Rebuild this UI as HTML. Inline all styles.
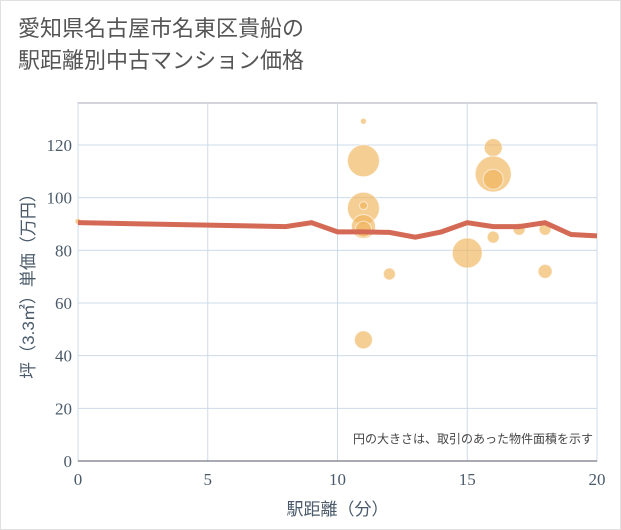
<!DOCTYPE html>
<html><head><meta charset="utf-8"><style>
body{margin:0;background:#fff;}
.wrap{position:relative;width:619px;height:528px;border:1px solid #e0e0e0;background:#fff;font-family:"Liberation Sans","Noto Sans CJK JP",sans-serif;}
.title{position:absolute;left:17px;top:12px;font-size:22px;line-height:32px;color:#555;}
</style></head><body>
<div class="wrap">
<div class="title">愛知県名古屋市名東区貴船の<br>駅距離別中古マンション価格</div>
<svg id="c" width="621" height="530" style="position:absolute;left:-1px;top:-1px"></svg>
</div>
<script>
const bubbleX=[0,11,11,11,11,11,11,11,12,15,16,16,16,16,17,18,18];
const bubbleY=[91,129,114,96,97,89,88,46,71,79,119,109,107,85,88,88,72];
const bubbleR=[3,3,16,16,4,12,8,9,6,15,9,18,10,6,6,6,7];
const lineX=[0,8,9,10,11,12,13,14,15,16,17,18,19,20];
const lineY=[90.5,89,90.5,87,87,86.8,85,87,90.5,89,89,90.5,86,85.5];
const xTicks=[0,5,10,15,20];
const yTicks=[0,20,40,60,80,100,120];
const L=78,R=597,T=103,B=461;
const sx=v=>L+(R-L)*v/20, sy=v=>B-(B-145)*v/120;
const s=document.getElementById('c');const N='http://www.w3.org/2000/svg';
function mk(t,a,p){const e=document.createElementNS(N,t);for(const k in a)e.setAttribute(k,a[k]);(p||s).appendChild(e);return e;}
let bg=mk('rect',{x:L,y:T,width:R-L,height:B-T,fill:'#fff',stroke:'#aab',"stroke-width":1});

yTicks.forEach(v=>{const g=mk('line',{x1:L,x2:R,y1:sy(v),y2:sy(v),stroke:'#cddbe8'});

const t=mk('text',{x:L-6,y:sy(v)+6,"text-anchor":"end","font-size":17,"font-family":"Liberation Serif, serif",fill:'#4a5a6a'});t.textContent=v;
});
xTicks.forEach(v=>{const g=mk('line',{x1:sx(v),x2:sx(v),y1:T,y2:B,stroke:'#cddbe8'});

const t=mk('text',{x:sx(v),y:B+24,"text-anchor":"middle","font-size":17,"font-family":"Liberation Serif, serif",fill:'#4a5a6a'});t.textContent=v;
});
const ax=mk('line',{x1:L,x2:R,y1:B,y2:B,stroke:'#556'});
bubbleX.forEach((x,i)=>{const c=mk('circle',{cx:sx(x),cy:sy(bubbleY[i]),r:bubbleR[i],fill:'rgba(240,180,90,0.65)',stroke:'rgba(255,255,255,0.6)'});
});
const pl=mk('polyline',{points:lineX.map((x,i)=>sx(x)+','+sy(lineY[i])).join(' '),fill:'none',stroke:'#d46a55',"stroke-width":5});

const n=mk('text',{x:593,y:443,"text-anchor":"end","font-size":12,fill:'#444'});n.textContent='円の大きさは、取引のあった物件面積を示す';

const xt=mk('text',{x:(L+R)/2,y:515,"text-anchor":"middle","font-size":17,fill:'#4a5a6a'});xt.textContent='駅距離（分）';

const yt=mk('text',{x:0,y:0,"text-anchor":"middle","font-size":17,fill:'#4a5a6a',transform:'translate(34,282) rotate(-90)'});yt.textContent='坪（3.3㎡）単価（万円）';

</script>
</body></html>
